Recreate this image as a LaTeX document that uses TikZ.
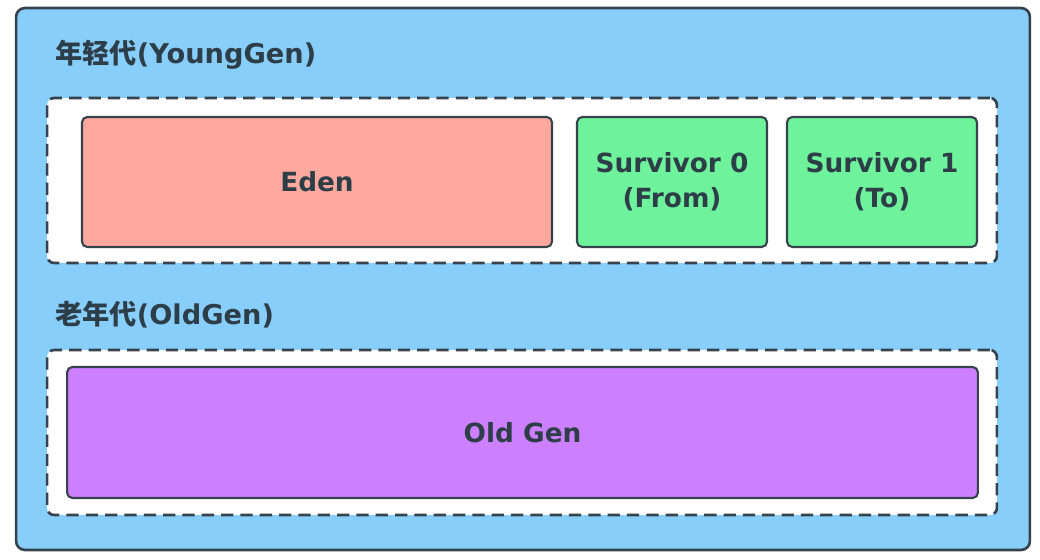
\documentclass[tikz,border=0pt]{standalone}
\usepackage{fontspec}
\setmainfont{DejaVu Sans}
\newfontfamily\cjk{Noto Sans CJK SC}
\usetikzlibrary{positioning}
\definecolor{fondbleu}{HTML}{87CEFA}
\definecolor{trait}{HTML}{36434C}
\definecolor{texte}{HTML}{2E3E48}
\definecolor{eden}{HTML}{FFA89E}
\definecolor{survivant}{HTML}{6EF29B}
\definecolor{vieux}{HTML}{CC7FFF}

\begin{document}
\begin{tikzpicture}[x=0.02cm,y=-0.02cm,
    bloc/.style={draw=trait,line width=1.2pt,rounded corners=3pt,align=center,
      font=\bfseries\fontsize{15}{20}\selectfont,text=texte},
    zone/.style={draw=trait,fill=white,line width=1.5pt,dash pattern=on 7pt off 4pt,
      rounded corners=4pt,minimum width=19cm,minimum height=3.3cm},
    titre/.style={anchor=west,font=\bfseries\fontsize{15.5}{18}\selectfont,text=texte}]
        \useasboundingbox (0,0) rectangle (1040,560);
        % Le tas : fond bleu
        \node (tas) [draw=trait,fill=fondbleu,line width=1.5pt,rounded corners=5pt,
          minimum width=20.28cm,minimum height=10.84cm] at (523,279) {};

        % Jeune génération
        \node (titrejeune) [titre] at (49,55) {{\cjk 年轻代}(YoungGen)};
        \node (jeune) [zone] at (522,180.5) {};
        \node (eden) [bloc,fill=eden,minimum width=9.4cm,minimum height=2.6cm] at (317,182) {Eden};
        \node (s0) [bloc,fill=survivant,minimum width=3.8cm,minimum height=2.6cm] at (672,182) {Survivor 0\\(From)};
        \node (s1) [bloc,fill=survivant,minimum width=3.8cm,minimum height=2.6cm] at (882,182) {Survivor 1\\(To)};

        % Vieille génération
        \node (titrevieux) [titre] at (49,315) {{\cjk 老年代}(OldGen)};
        \node (ancien) [zone] at (522,432.5) {};
        \node (oldgen) [bloc,fill=vieux,minimum width=18.22cm,minimum height=2.62cm] at (522.5,432.5) {Old Gen};
\end{tikzpicture}
\end{document}
